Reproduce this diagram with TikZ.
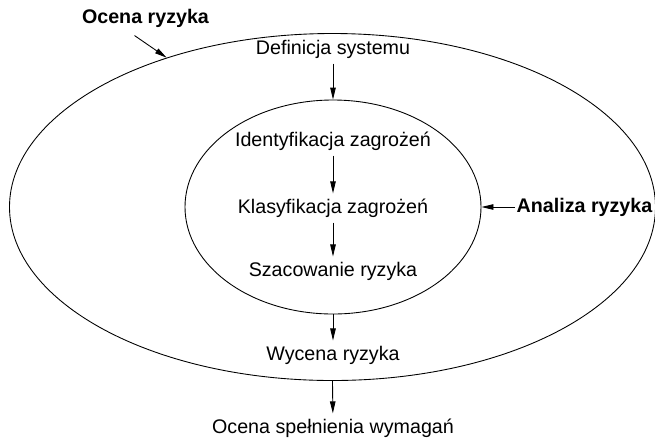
\documentclass[tikz,border=0pt]{standalone}
\usepackage{fontspec}
\setmainfont{Liberation Sans}
\usetikzlibrary{arrows.meta,shapes.geometric}

\begin{document}
\begin{tikzpicture}[
  lbl/.style={inner xsep=1pt, inner ysep=0.1cm, font=\fontsize{11.2}{13.4}\selectfont},
  keylbl/.style={lbl, font=\fontsize{11.2}{13.4}\selectfont\bfseries},
  ring/.style={draw, ellipse, line width=0.5pt, inner sep=0pt},
  arr/.style={-{Triangle[length=2.4mm, width=1.1mm]}, line width=0.5pt}]
\useasboundingbox (0,0) rectangle (13.1,-8.82);
\node[ring, minimum width=12.92cm, minimum height=6.94cm] (outer) at (6.65,-4.14) {};
\node[ring, minimum width=5.92cm, minimum height=4.28cm] (inner) at (6.66,-4.14) {};
\node[keylbl] (ocena) at (2.91,-0.36) {Ocena ryzyka};
\node[keylbl] (analiza) at (11.69,-4.14) {Analiza ryzyka};
\node[lbl] (defin) at (6.66,-0.98) {Definicja systemu};
\node[lbl] (ident) at (6.66,-2.82) {Identyfikacja zagrożeń};
\node[lbl] (klas) at (6.66,-4.16) {Klasyfikacja zagrożeń};
\node[lbl] (szac) at (6.66,-5.42) {Szacowanie ryzyka};
\node[lbl] (wycena) at (6.66,-7.10) {Wycena ryzyka};
\node[lbl] (spel) at (6.66,-8.56) {Ocena spełnienia wymagań};
\draw[arr] ([xshift=-0.22cm,yshift=-0.06cm]ocena.south) -- (outer.138.6);
\draw[arr] (defin) -- (inner.north);
\draw[arr] (ident) -- (klas); \draw[arr] (klas) -- (szac);
\draw[arr] (inner.south) -- (wycena);
\draw[arr] (outer.south) -- (spel);
\draw[arr] (analiza) -- (inner.east);
\end{tikzpicture}
\end{document}
